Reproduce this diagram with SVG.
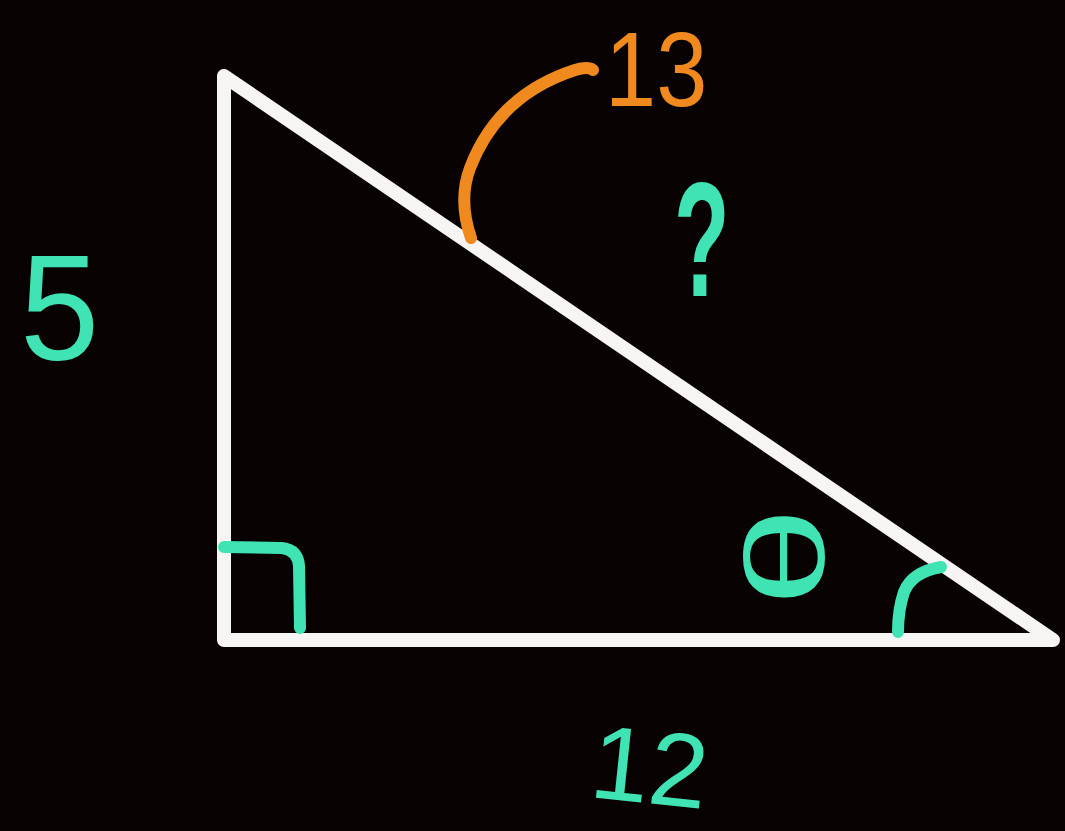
<svg xmlns="http://www.w3.org/2000/svg" width="1065" height="831" viewBox="0 0 1065 831">
<style>
.tri{fill:none;stroke:#f7f5f3;stroke-width:14;stroke-linejoin:round;stroke-linecap:round}
.teal{fill:none;stroke:#3fe3b4;stroke-width:12;stroke-linecap:round;stroke-linejoin:round}
.org{fill:none;stroke:#f08a1e;stroke-width:12;stroke-linecap:round}
.tt{fill:#3fe3b4;font-family:"Liberation Sans","Noto Sans",sans-serif}
.to{fill:#f08a1e;font-family:"Liberation Sans","Noto Sans",sans-serif}
</style>
<rect width="1065" height="831" fill="#080203"/>
<g id="triangle">
<path class="tri" d="M224,76 L224,640 L1053,640 Z"/>
</g>
<g id="marks">
<path class="teal" d="M224,547 L282,548 Q298,550 299,566 L300,628"/>
<path class="teal" d="M941,567 Q912,572 904,592 Q898,610 898,632"/>
<path class="org" d="M471,238 Q458,200 470,168 Q498,95 575,70 Q588,66 593,70"/>
</g>
<g id="labels">
<text class="tt" x="0" y="0" font-size="150" transform="translate(20,360) scale(0.95,1)">5</text>
<text class="to" x="0" y="0" font-size="100" transform="translate(605,106) scale(0.92,1.05)">13</text>
<text class="tt" x="0" y="0" font-size="130" font-weight="bold" transform="translate(674,296) scale(0.7,1.25)">?</text>
<text class="tt" x="0" y="0" font-size="112" text-anchor="middle" dominant-baseline="central" transform="translate(785,557) rotate(-90) scale(1.6,1)">θ</text>
<text class="tt" x="0" y="0" font-size="105" transform="translate(588,797) rotate(6)">12</text>
</g>
</svg>
